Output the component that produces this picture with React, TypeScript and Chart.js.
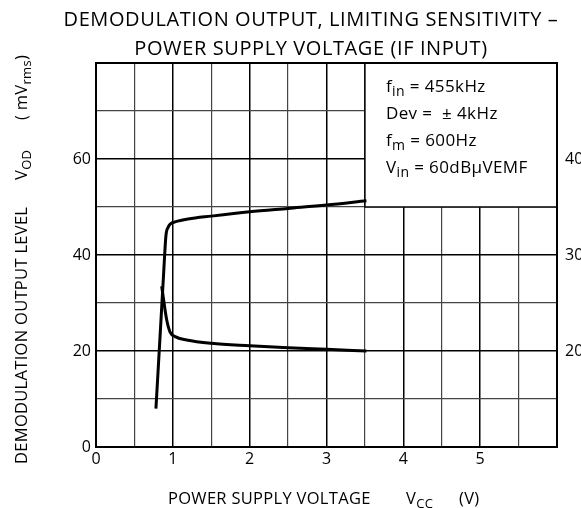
import React, { useEffect, useRef } from 'react';
import { Chart, registerables } from 'chart.js';

Chart.register(...registerables);

const FONT = '"Open Sans", "DejaVu Sans", sans-serif';

// ---- data ----
const titleLines = ['DEMODULATION OUTPUT, LIMITING SENSITIVITY –', 'POWER SUPPLY VOLTAGE (IF INPUT)'];
const xTickLabels = ['0', '1', '2', '3', '4', '5'];
const leftTickLabels = ['0', '20', '40', '60'];
const rightTickLabels = ['20', '30', '40'];

// demodulation output V_OD (mVrms), left axis
const outputVcc = [0.78, 0.84, 0.88, 0.91, 0.94, 0.97, 1.03, 1.2, 1.5, 2.0, 2.5, 3.0, 3.52];
const outputVod = [8, 24.8, 36.1, 44.0, 45.8, 46.5, 46.9, 47.5, 48.1, 49.0, 49.7, 50.4, 51.3];

// limiting sensitivity, right axis
const sensVcc = [0.855, 0.92, 0.963, 1.03, 1.18, 1.5, 2.0, 2.5, 3.0, 3.52];
const sensVal = [26.75, 23.25, 22.0, 21.5, 21.15, 20.8, 20.55, 20.35, 20.18, 20.0];

type Seg = { t: string; sub?: boolean };
const conditions: Seg[][] = [
  [{ t: 'f' }, { t: 'in', sub: true }, { t: ' = 455kHz' }],
  [{ t: 'Dev =  ± 4kHz' }],
  [{ t: 'f' }, { t: 'm', sub: true }, { t: ' = 600Hz' }],
  [{ t: 'V' }, { t: 'in', sub: true }, { t: ' = 60dB' }, { t: 'μ' }, { t: 'VEMF' }],
];
const yTitleMain: Seg[] = [{ t: 'DEMODULATION OUTPUT LEVEL' }];
const yTitleSym: Seg[] = [{ t: 'V' }, { t: 'OD', sub: true }];
const yTitleUnit: Seg[] = [{ t: '( mV' }, { t: 'rms', sub: true }, { t: ')' }];
const xTitleMain: Seg[] = [{ t: 'POWER SUPPLY VOLTAGE' }];
const xTitleSym: Seg[] = [{ t: 'V' }, { t: 'CC', sub: true }];
const xTitleUnit: Seg[] = [{ t: '(V)' }];

function setSpacing(ctx: any, px: number) {
  try { ctx.letterSpacing = `${px}px`; } catch (e) { /* ignore */ }
}

function richWidth(ctx: CanvasRenderingContext2D, segs: Seg[], size: number) {
  let w = 0;
  for (const s of segs) {
    ctx.font = `${s.sub ? Math.round(size * 0.8) : size}px ${FONT}`;
    w += ctx.measureText(s.t).width;
  }
  return w;
}

function drawRich(ctx: CanvasRenderingContext2D, segs: Seg[], x: number, y: number, size: number, align: 'left' | 'center') {
  const w = richWidth(ctx, segs, size);
  let cx = align === 'center' ? x - w / 2 : x;
  ctx.textAlign = 'left';
  ctx.textBaseline = 'middle';
  ctx.fillStyle = '#000';
  for (const s of segs) {
    const fs = s.sub ? Math.round(size * 0.8) : size;
    ctx.font = `${fs}px ${FONT}`;
    ctx.fillText(s.t, cx, s.sub ? y + size * 0.32 : y);
    cx += ctx.measureText(s.t).width;
  }
}

const decorPlugin = {
  id: 'decor',
  beforeDatasetsDraw(chart: any) {
    const { ctx, chartArea, scales } = chart;
    const x0 = scales.x.getPixelForValue(3.5);
    const y0 = scales.y.getPixelForValue(50);
    ctx.save();
    ctx.fillStyle = '#fff';
    ctx.fillRect(x0, chartArea.top, chartArea.right - x0, y0 - chartArea.top);
    ctx.strokeStyle = '#000';
    ctx.lineWidth = 1.5;
    ctx.beginPath();
    ctx.moveTo(x0, chartArea.top);
    ctx.lineTo(x0, y0);
    ctx.lineTo(chartArea.right, y0);
    ctx.stroke();
    setSpacing(ctx, 0.4);
    conditions.forEach((line, i) => {
      drawRich(ctx, line, x0 + 21, chartArea.top + 24 + i * 27, 17, 'left');
    });
    setSpacing(ctx, 0);
    ctx.restore();
  },
  afterDraw(chart: any) {
    const { ctx, chartArea } = chart;
    ctx.save();
    ctx.strokeStyle = '#000';
    ctx.lineWidth = 2;
    ctx.strokeRect(chartArea.left, chartArea.top, chartArea.right - chartArea.left, chartArea.bottom - chartArea.top);
    ctx.fillStyle = '#000';
    ctx.textAlign = 'center';
    ctx.textBaseline = 'middle';
    setSpacing(ctx, 0.6);
    ctx.font = `20px ${FONT}`;
    ctx.fillText(titleLines[0], 311, 20);
    ctx.fillText(titleLines[1], 311, 49);
    setSpacing(ctx, 0.3);
    drawRich(ctx, xTitleMain, 168, 499, 16.5, 'left');
    drawRich(ctx, xTitleSym, 406, 499, 16.5, 'left');
    drawRich(ctx, xTitleUnit, 459, 499, 16.5, 'left');
    ctx.translate(22, 0);
    ctx.rotate(-Math.PI / 2);
    drawRich(ctx, yTitleMain, -464, 0, 16.5, 'left');
    drawRich(ctx, yTitleSym, -180, 0, 16.5, 'left');
    drawRich(ctx, yTitleUnit, -120, 0, 16.5, 'left');
    setSpacing(ctx, 0);
    ctx.restore();
  },
};

export default function App() {
  const ref = useRef<HTMLCanvasElement>(null);
  useEffect(() => {
    const canvas = ref.current!;
    const chart = new Chart(canvas, {
      type: 'line',
      data: {
        datasets: [
          {
            label: 'Demodulation output',
            data: outputVcc.map((x, i) => ({ x, y: outputVod[i] })),
            borderColor: '#000',
            borderWidth: 3,
            pointRadius: 0,
            cubicInterpolationMode: 'monotone',
            yAxisID: 'y',
          },
          {
            label: 'Limiting sensitivity',
            data: sensVcc.map((x, i) => ({ x, y: sensVal[i] })),
            borderColor: '#000',
            borderWidth: 3,
            pointRadius: 0,
            cubicInterpolationMode: 'monotone',
            yAxisID: 'y2',
          },
        ],
      },
      options: {
        responsive: false,
        animation: false,
        layout: { padding: { top: 63, left: 0, right: 0, bottom: 0 } },
        plugins: { legend: { display: false }, tooltip: { enabled: false }, title: { display: false } },
        scales: {
          x: {
            type: 'linear',
            min: 0,
            max: 6,
            afterFit: (s: any) => { s.height = 61; },
            afterBuildTicks: (s: any) => {
              const t = [];
              for (let v = 0; v <= 6; v += 0.5) t.push({ value: v });
              s.ticks = t;
            },
            ticks: {
              autoSkip: false,
              maxRotation: 0,
              padding: 3,
              color: '#000',
              font: { family: FONT, size: 16 },
              callback: (v: any) => {
                const s = String(v);
                return xTickLabels.includes(s) ? s : '';
              },
            },
            grid: {
              drawTicks: false,
              color: (c: any) => (c.tick && Number.isInteger(c.tick.value) ? '#000' : '#444'),
              lineWidth: (c: any) => (c.tick && Number.isInteger(c.tick.value) ? 1.5 : 1.2),
            },
            border: { display: false },
          },
          y: {
            type: 'linear',
            position: 'left',
            min: 0,
            max: 80,
            afterFit: (s: any) => { s.width = 96; },
            afterBuildTicks: (s: any) => {
              const t = [];
              for (let v = 0; v <= 80; v += 10) t.push({ value: v });
              s.ticks = t;
            },
            ticks: {
              autoSkip: false,
              padding: 5,
              color: '#000',
              font: { family: FONT, size: 16 },
              callback: (v: any) => {
                const s = String(v);
                return leftTickLabels.includes(s) ? s : '';
              },
            },
            grid: {
              drawTicks: false,
              color: (c: any) => (c.tick && c.tick.value % 20 === 0 ? '#000' : '#444'),
              lineWidth: (c: any) => (c.tick && c.tick.value % 20 === 0 ? 1.5 : 1.2),
            },
            border: { display: false },
          },
          y2: {
            type: 'linear',
            position: 'right',
            min: 10,
            max: 50,
            afterFit: (s: any) => { s.width = 24; },
            afterBuildTicks: (s: any) => {
              const t = [];
              for (let v = 10; v <= 50; v += 10) t.push({ value: v });
              s.ticks = t;
            },
            ticks: {
              autoSkip: false,
              padding: 8,
              color: '#000',
              font: { family: FONT, size: 16 },
              callback: (v: any) => {
                const s = String(v);
                return rightTickLabels.includes(s) ? s : '';
              },
            },
            grid: { display: false, drawTicks: false },
            border: { display: false },
          },
        },
      },
      plugins: [decorPlugin],
    } as any);
    return () => chart.destroy();
  }, []);
  return (
    <div style={{ position: 'absolute', left: 0, top: 0, width: 581, height: 508, background: '#fff' }}>
      <canvas ref={ref} width={581} height={508} style={{ display: 'block' }} />
    </div>
  );
}
